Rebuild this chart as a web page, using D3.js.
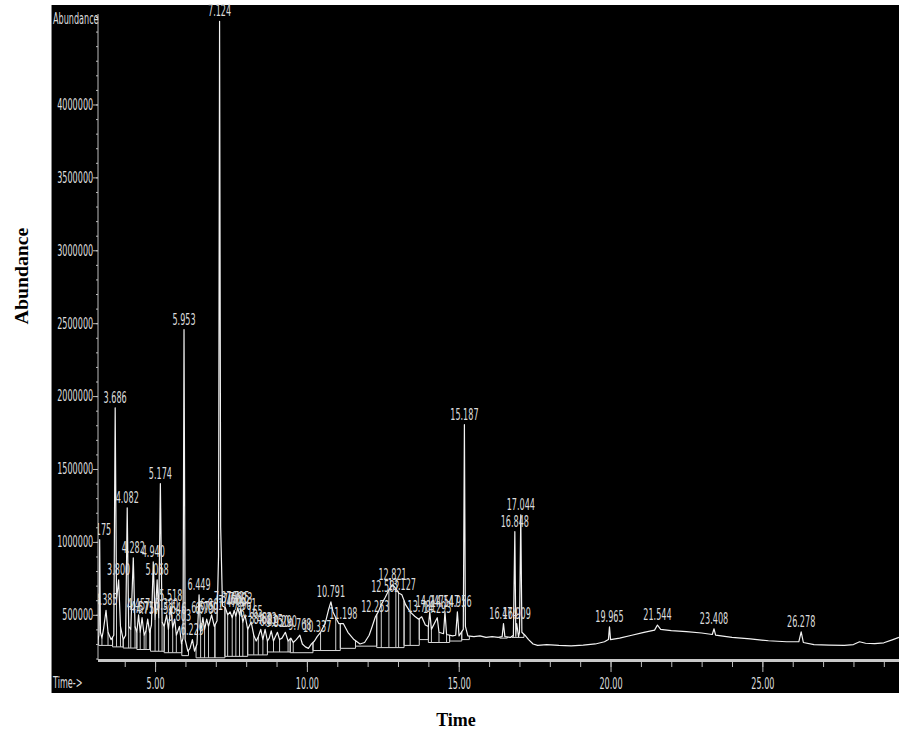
<!DOCTYPE html>
<html><head><meta charset="utf-8">
<script src="https://cdn.jsdelivr.net/npm/d3@7"></script>
<style>
html,body{margin:0;padding:0;background:#fff;}
svg{display:block;}
</style></head><body>
<svg id="c" width="899" height="732"></svg>
<script>
// ---- data ----
const xDomain = [3.12, 29.5];          // retention time, min
const yDomain = [190000, 4600000];     // abundance
const xMajor = [5, 10, 15, 20, 25];
const xMinor = d3.range(4, 30, 1);
const yMajor = [500000, 1000000, 1500000, 2000000, 2500000, 3000000, 3500000, 4000000];
const yMinor = d3.range(200000, 4600001, 100000);

// total ion chromatogram: [time, abundance]
const tracePoints = [
  [3.12,330000],[3.15,360000],[3.175,1015000],[3.20,380000],[3.25,340000],[3.30,400000],
  [3.385,530000],[3.45,380000],[3.55,330000],[3.64,360000],[3.686,1920000],[3.73,600000],
  [3.80,740000],[3.86,420000],[3.95,330000],[4.03,360000],[4.082,1234000],[4.13,420000],
  [4.20,400000],[4.282,891000],[4.34,420000],[4.40,380000],[4.457,500000],[4.51,380000],
  [4.571,480000],[4.64,360000],[4.70,390000],[4.757,470000],[4.82,380000],[4.88,430000],
  [4.94,864000],[5.00,470000],[5.068,740000],[5.12,480000],[5.174,1400000],[5.23,450000],
  [5.30,420000],[5.38,500000],[5.44,400000],[5.518,560000],[5.58,410000],[5.646,470000],
  [5.70,360000],[5.803,420000],[5.87,300000],[5.92,340000],[5.953,2456000],[5.99,330000],
  [6.08,250000],[6.15,270000],[6.229,330000],[6.30,250000],[6.38,300000],[6.449,637000],
  [6.50,380000],[6.575,480000],[6.63,400000],[6.70,470000],[6.76,420000],[6.861,500000],
  [6.95,420000],[7.04,460000],[7.09,900000],[7.124,4570000],[7.16,1100000],[7.22,560000],
  [7.31,550000],[7.39,500000],[7.47,520000],[7.54,480000],[7.606,530000],[7.66,490000],
  [7.725,550000],[7.78,500000],[7.823,540000],[7.89,450000],[7.961,500000],[8.05,400000],
  [8.165,450000],[8.25,360000],[8.33,320000],[8.40,350000],[8.48,400000],[8.55,330000],
  [8.623,400000],[8.70,320000],[8.76,340000],[8.825,390000],[8.90,320000],[8.96,350000],
  [9.03,380000],[9.10,330000],[9.18,340000],[9.29,380000],[9.38,320000],[9.47,340000],
  [9.55,310000],[9.65,330000],[9.768,360000],[9.85,300000],[9.95,280000],[10.05,270000],
  [10.15,300000],[10.25,320000],[10.337,350000],[10.45,380000],[10.60,440000],[10.72,540000],
  [10.791,589000],[10.86,520000],[10.95,480000],[11.05,440000],[11.198,440000],[11.35,380000],
  [11.55,330000],[11.75,300000],[11.90,310000],[12.05,360000],[12.15,420000],[12.253,485000],
  [12.35,520000],[12.45,570000],[12.582,620000],[12.70,670000],[12.821,706000],[12.93,680000],
  [13.02,650000],[13.127,637000],[13.25,570000],[13.40,520000],[13.55,490000],[13.68,470000],
  [13.781,486000],[13.90,430000],[14.00,420000],[14.047,520000],[14.10,400000],[14.293,480000],
  [14.35,380000],[14.50,370000],[14.547,520000],[14.60,365000],[14.80,355000],[14.90,360000],
  [14.956,520000],[15.01,355000],[15.15,400000],[15.187,1804000],[15.22,420000],[15.30,355000],
  [15.50,350000],[15.70,355000],[15.90,345000],[16.10,350000],[16.30,345000],[16.43,350000],
  [16.474,440000],[16.52,350000],[16.70,345000],[16.80,360000],[16.848,1070000],[16.88,360000],
  [16.909,440000],[16.97,350000],[17.00,380000],[17.044,1186000],[17.08,380000],[17.18,360000],
  [17.30,330000],[17.45,300000],[17.60,290000],[17.90,295000],[18.30,290000],[18.70,287000],
  [19.10,292000],[19.50,300000],[19.80,315000],[19.93,330000],[19.965,418000],[20.00,330000],
  [20.30,340000],[20.70,360000],[21.10,380000],[21.45,395000],[21.544,430000],[21.65,400000],
  [22.00,392000],[22.50,385000],[23.00,375000],[23.35,365000],[23.408,404000],[23.46,360000],
  [24.00,345000],[24.60,335000],[25.20,322000],[25.80,315000],[26.20,315000],[26.278,383000],
  [26.35,310000],[26.70,296000],[27.20,292000],[27.70,290000],[28.00,296000],[28.20,315000],
  [28.40,305000],[28.70,302000],[29.00,308000],[29.30,330000],[29.50,345000]
];

// labelled peaks (retention times)
const peakLabels = ["3.175","3.385","3.686","3.800","4.082","4.282","4.457","4.571","4.757","4.940",
  "5.068","5.174","5.380","5.518","5.646","5.803","5.953","6.229","6.449","6.575","6.700","6.861",
  "7.124","7.310","7.470","7.606","7.725","7.823","7.961","8.165","8.480","8.623","8.825","9.030",
  "9.290","9.768","10.337","10.791","11.198","12.253","12.582","12.821","13.127","13.781","14.047",
  "14.293","14.547","14.956","15.187","16.474","16.848","16.909","17.044","19.965","21.544","23.408","26.278"];

// integration baseline segments
const intStart = [3.14,3.60,3.95,4.40,4.85,5.30,5.88,6.35,6.97,7.30,8.05,8.70,9.45,10.20,11.10,11.60,12.30,13.20,13.70,14.00,14.70,15.10,16.35,16.75];
const intEnd   = [3.60,3.95,4.40,4.85,5.30,5.88,6.10,6.97,7.30,8.05,8.70,9.45,10.20,11.10,11.60,12.30,13.20,13.70,14.00,14.70,15.10,15.35,16.60,17.15];
const intBase  = [290000,280000,272000,262000,250000,240000,220000,205000,205000,215000,225000,245000,240000,255000,270000,285000,275000,290000,330000,310000,320000,330000,340000,345000];
const dropTimes = [3.25,3.45,3.73,3.86,4.13,4.20,4.34,4.51,4.64,4.70,4.82,5.00,5.12,5.23,5.44,5.58,5.70,
  6.50,6.63,6.76,7.39,7.54,7.66,7.78,7.89,8.25,8.40,8.55,8.90,9.10,9.38,9.55,10.45,10.95,
  12.45,12.70,12.93,13.02,13.40,14.10,14.35,14.60,16.80,16.88,16.97];

// ---- drawing ----
const svg = d3.select("#c");
const NARROW = '"Liberation Sans Narrow","DejaVu Sans Condensed","Liberation Sans",sans-serif';
const SQ = 0.6, FS = 15;
const TXT = "#dcdcdc", AX = "#bdbdbd", LINE = "#f2f2f2";

svg.append("rect").attr("x", 51).attr("y", 5).attr("width", 848).attr("height", 688).attr("fill", "#000");
svg.append("line").attr("x1", 51.5).attr("x2", 51.5).attr("y1", 5).attr("y2", 693).attr("stroke", "#888").attr("stroke-width", 1);

const x = d3.scaleLinear().domain(xDomain).range([98, 899]);
const y = d3.scaleLinear().domain(yDomain).range([660, 17]);

const traceAt = t => {
  const i = d3.bisector(d => d[0]).left(tracePoints, t);
  if (i <= 0) return tracePoints[0][1];
  if (i >= tracePoints.length) return tracePoints[tracePoints.length - 1][1];
  const a = tracePoints[i - 1], b = tracePoints[i];
  if (b[0] === t) return b[1];
  return a[1] + (b[1] - a[1]) * (t - a[0]) / (b[0] - a[0]);
};

// y axis
svg.append("line").attr("x1", 98).attr("x2", 98).attr("y1", 14).attr("y2", 660).attr("stroke", AX).attr("stroke-width", 1);
const gyMinor = svg.append("g").attr("transform", "translate(98,0)")
  .call(d3.axisLeft(y).tickValues(yMinor).tickSize(2).tickFormat(""));
gyMinor.select(".domain").remove();
gyMinor.selectAll("line").attr("stroke", AX);
const gy = svg.append("g").attr("transform", "translate(98,0)")
  .call(d3.axisLeft(y).tickValues(yMajor).tickSize(5).tickPadding(3).tickFormat(d3.format("d")));
gy.select(".domain").remove();
gy.attr("font-family", NARROW).attr("font-size", FS);
gy.selectAll("line").attr("stroke", AX);
gy.selectAll("text").attr("fill", TXT).attr("transform", `scale(${SQ},1)`);

// x axis
const gxMinor = svg.append("g").attr("transform", "translate(0,660)")
  .call(d3.axisBottom(x).tickValues(xMinor).tickSize(7).tickFormat(""));
gxMinor.select(".domain").remove();
gxMinor.selectAll("line").attr("stroke", AX);
const gx = svg.append("g").attr("transform", "translate(0,660)")
  .call(d3.axisBottom(x).tickValues(xMajor).tickSize(12).tickPadding(6).tickFormat(d3.format(".2f")));
gx.select(".domain").remove();
gx.attr("font-family", NARROW).attr("font-size", FS);
gx.selectAll("line").attr("stroke", AX);
gx.selectAll("text").attr("fill", TXT).attr("transform", `scale(${SQ},1)`);
svg.append("line").attr("x1", 98).attr("x2", 899).attr("y1", 660.5).attr("y2", 660.5)
  .attr("stroke", "#c8c8c8").attr("stroke-width", 3);

// inner labels
svg.append("text").attr("transform", `translate(53,24) scale(${SQ},1)`)
  .attr("font-family", NARROW).attr("font-size", FS).attr("fill", TXT).text("Abundance");
svg.append("text").attr("transform", `translate(53,688) scale(${SQ},1)`)
  .attr("font-family", NARROW).attr("font-size", FS).attr("fill", TXT).text("Time->");

// plot contents
svg.append("clipPath").attr("id", "clip").append("rect")
  .attr("x", 98).attr("y", 0).attr("width", 801).attr("height", 660);
const g = svg.append("g").attr("clip-path", "url(#clip)");

// integration baselines + drop lines
intStart.forEach((s, i) => {
  const e = intEnd[i], b = intBase[i];
  g.append("line").attr("x1", x(s)).attr("x2", x(e)).attr("y1", y(b)).attr("y2", y(b))
    .attr("stroke", "#d8d8d8").attr("stroke-width", 1);
  [s, e].forEach(t => g.append("line").attr("x1", x(t)).attr("x2", x(t))
    .attr("y1", y(b)).attr("y2", y(traceAt(t))).attr("stroke", "#d8d8d8").attr("stroke-width", 1));
});
dropTimes.forEach(t => {
  const k = intStart.findIndex((s, i) => t >= s && t <= intEnd[i]);
  if (k < 0) return;
  g.append("line").attr("x1", x(t)).attr("x2", x(t))
    .attr("y1", y(intBase[k])).attr("y2", y(traceAt(t))).attr("stroke", "#d0d0d0").attr("stroke-width", 1);
});

// trace
g.append("path").datum(tracePoints)
  .attr("fill", "none").attr("stroke", LINE).attr("stroke-width", 1.2).attr("stroke-linejoin", "round")
  .attr("d", d3.line().x(d => x(d[0])).y(d => y(d[1])));

// peak labels
peakLabels.forEach(lbl => {
  const t = parseFloat(lbl);
  const a = traceAt(t);
  g.append("text").attr("transform", `translate(${x(t)},${y(a) - 5}) scale(${SQ},1)`)
    .attr("text-anchor", "middle").attr("font-family", NARROW).attr("font-size", FS)
    .attr("fill", TXT).text(lbl);
});

// outer titles
svg.append("text").attr("transform", "translate(28,276) rotate(-90) scale(1.1,1)")
  .attr("text-anchor", "middle").attr("font-family", '"Liberation Serif","Times New Roman",serif')
  .attr("font-weight", "bold").attr("font-size", 18).attr("fill", "#000").text("Abundance");
svg.append("text").attr("x", 456).attr("y", 726)
  .attr("text-anchor", "middle").attr("font-family", '"Liberation Serif","Times New Roman",serif')
  .attr("font-weight", "bold").attr("font-size", 18).attr("fill", "#000").text("Time");
</script>
</body></html>
